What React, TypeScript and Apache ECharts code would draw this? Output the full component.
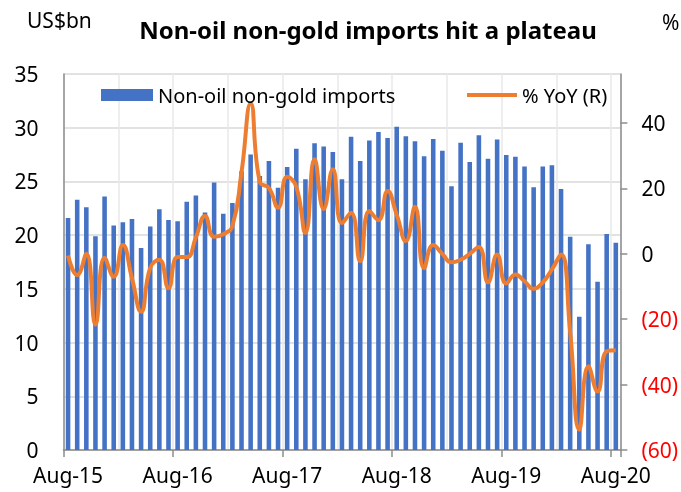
import React, { useEffect, useRef } from "react";
import * as echarts from "echarts";

const categories = [
  "Aug-15", "Sep-15", "Oct-15", "Nov-15", "Dec-15", "Jan-16", "Feb-16", "Mar-16", "Apr-16", "May-16", "Jun-16", "Jul-16",
  "Aug-16", "Sep-16", "Oct-16", "Nov-16", "Dec-16", "Jan-17", "Feb-17", "Mar-17", "Apr-17", "May-17", "Jun-17", "Jul-17",
  "Aug-17", "Sep-17", "Oct-17", "Nov-17", "Dec-17", "Jan-18", "Feb-18", "Mar-18", "Apr-18", "May-18", "Jun-18", "Jul-18",
  "Aug-18", "Sep-18", "Oct-18", "Nov-18", "Dec-18", "Jan-19", "Feb-19", "Mar-19", "Apr-19", "May-19", "Jun-19", "Jul-19",
  "Aug-19", "Sep-19", "Oct-19", "Nov-19", "Dec-19", "Jan-20", "Feb-20", "Mar-20", "Apr-20", "May-20", "Jun-20", "Jul-20",
  "Aug-20",
];

// US$bn
const imports = [
  21.6, 23.3, 22.6, 19.9, 23.6, 20.9, 21.2, 21.5, 18.8, 20.8, 22.4, 21.4,
  21.3, 23.1, 23.7, 22.1, 24.9, 22.0, 23.0, 25.95, 27.5, 25.5, 26.9, 24.4,
  26.35, 28.05, 25.2, 28.55, 28.25, 27.75, 25.2, 29.15, 26.9, 28.8, 29.6, 29.05,
  30.1, 29.2, 28.75, 27.35, 28.95, 27.85, 24.55, 28.6, 26.8, 29.3, 27.1, 28.9,
  27.45, 27.3, 26.4, 24.45, 26.4, 26.5, 24.3, 19.85, 12.4, 19.15, 15.65, 20.1,
  19.3,
];

// % YoY (right axis)
const yoy = [
  -0.5, -6.5, 0, -21.7, -1.2, -7, 2.7, -7.5, -17.7, -4.3, -1.8, -10.5,
  -1, -1, 5, 11.6, 5.2, 6, 8.5, 25, 46, 22, 20.2, 14.1,
  23.6, 20.5, 6.4, 28.9, 13.7, 25.9, 9.4, 12.6, -2.3, 13.1, 10.3, 19.2,
  12, 3.9, 14.4, -4.4, 2.7, 0, -2.6, -1.8, 0, 2.1, -8.7, -0.2,
  -9.1, -6.3, -8.4, -10.7, -8.7, -4.8, -0.2, -24, -53.8, -34.4, -42.1, -29.8,
  -29.5,
];

const rightTicks = [-60, -40, -20, 0, 20, 40];

const FONT = "Noto Sans";
const AXIS_GRAY = "#8c8c8c";
const BLUE = "#4472C4";
const ORANGE = "#ED7D31";

export default function App() {
  const ref = useRef<HTMLDivElement>(null);

  useEffect(() => {
    const chart = echarts.init(ref.current!, null, { renderer: "svg" });
    chart.setOption({
      animation: false,
      textStyle: { fontFamily: FONT },
      grid: { left: 63.5, right: 53.5, top: 74, bottom: 42, containLabel: false },
      legend: [
        {
          left: 96,
          top: 80,
          itemWidth: 52,
          itemHeight: 12,
          textStyle: { fontSize: 20, color: "#000", fontFamily: FONT },
          data: [{ name: "Non-oil non-gold imports", icon: "rect" }],
        },
        {
          left: 462,
          top: 80,
          itemWidth: 50,
          itemHeight: 4,
          textStyle: { fontSize: 20, color: "#000", fontFamily: FONT },
          data: [{ name: "% YoY (R)", icon: "rect", itemStyle: { color: ORANGE } }],
        },
      ],
      graphic: [
        {
          type: "text",
          x: 27,
          y: 20,
          style: {
            text: "US$bn",
            font: `21px '${FONT}'`,
            fill: "#000",
            textAlign: "left",
            textVerticalAlign: "middle",
          },
        },
        {
          type: "text",
          x: 368,
          y: 29,
          style: {
            text: "Non-oil non-gold imports hit a plateau",
            font: `bold 24px '${FONT}'`,
            fill: "#000",
            textAlign: "center",
            textVerticalAlign: "middle",
          },
        },
        {
          type: "text",
          x: 662,
          y: 22,
          style: {
            text: "%",
            font: `21px '${FONT}'`,
            fill: "#000",
            textAlign: "left",
            textVerticalAlign: "middle",
          },
        },
      ],
      xAxis: {
        type: "category",
        data: categories,
        boundaryGap: true,
        axisLine: { lineStyle: { color: AXIS_GRAY, width: 1.5 } },
        axisTick: { show: true, interval: 11, length: 7, lineStyle: { color: AXIS_GRAY, width: 1.5 } },
        axisLabel: { interval: 11, fontSize: 21, color: "#000", margin: 14, fontFamily: FONT },
        splitLine: { show: true, interval: 5, lineStyle: { color: "#e8e8e8", width: 1.5 } },
      },
      yAxis: [
        {
          type: "value",
          min: 0,
          max: 35,
          interval: 5,
          position: "left",
          axisLine: { show: true, lineStyle: { color: AXIS_GRAY, width: 1.5 } },
          axisTick: { show: false },
          axisLabel: { fontSize: 21, color: "#000", margin: 25, fontFamily: FONT },
          splitLine: { show: true, lineStyle: { color: "#d9d9d9", width: 1.5 } },
        },
        {
          type: "value",
          min: -60,
          max: 55,
          position: "right",
          axisLine: { show: true, lineStyle: { color: AXIS_GRAY, width: 1.5 } },
          axisTick: {
            show: true,
            length: 7,
            customValues: rightTicks,
            lineStyle: { color: AXIS_GRAY, width: 1.5 },
          },
          axisLabel: {
            customValues: rightTicks,
            margin: 21,
            fontSize: 21,
            fontFamily: FONT,
            formatter: (v: number) => (v < 0 ? `{neg|(${-v})}` : `{pos|${v}}`),
            rich: {
              neg: { color: "#ff0000", fontSize: 21, fontFamily: FONT },
              pos: { color: "#000", fontSize: 21, fontFamily: FONT },
            },
          },
          splitLine: { show: false },
        },
      ],
      series: [
        {
          type: "bar",
          name: "Non-oil non-gold imports",
          data: imports,
          barCategoryGap: "50%",
          itemStyle: { color: BLUE },
        },
        {
          type: "line",
          name: "% YoY (R)",
          yAxisIndex: 1,
          data: yoy,
          smooth: 0.5,
          symbol: "none",
          lineStyle: { color: ORANGE, width: 4 },
          itemStyle: { color: ORANGE },
        },
      ],
    });
    return () => chart.dispose();
  }, []);

  return (
    <div
      ref={ref}
      style={{ position: "fixed", left: 0, top: 0, width: 681, height: 492 }}
    />
  );
}
